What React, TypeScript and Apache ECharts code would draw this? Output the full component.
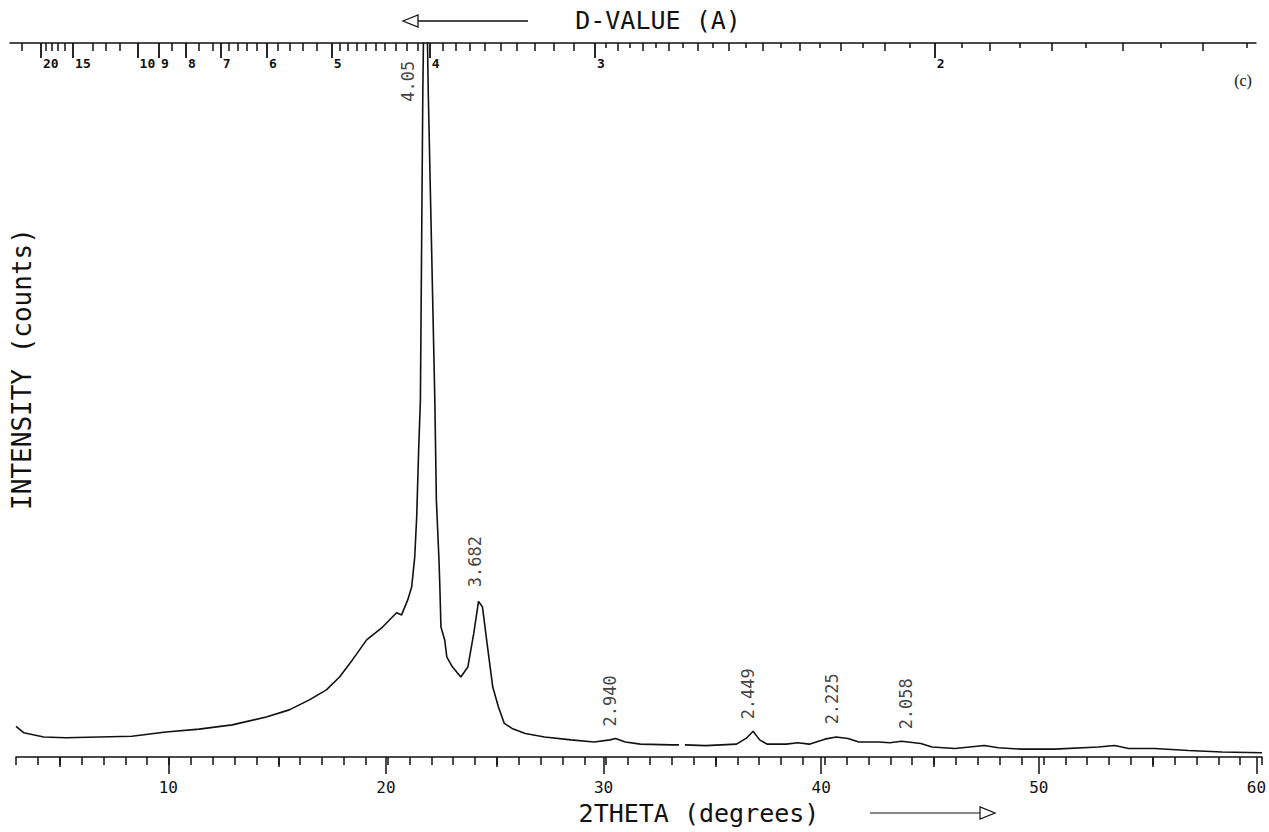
import React, { useEffect, useRef } from "react";
import * as echarts from "echarts";

// ---- diffraction pattern (2theta in degrees, intensity in relative counts; 1000 = top of frame)
const twoTheta = [
  3.0, 3.35, 4.27, 5.28, 6.79, 8.3, 9.86, 11.38, 12.89, 14.45, 15.5, 16.42, 17.2, 17.8, 18.39, 19.04, 19.77,
  20.41, 20.64, 20.92, 21.1, 21.24, 21.33, 21.42, 21.5, 21.61, 21.72, 21.86, 22.16, 22.23, 22.35, 22.39, 22.44,
  22.61, 22.71, 22.97, 23.35, 23.67, 23.94, 24.16, 24.34, 24.55, 24.81, 25.07, 25.34, 25.69, 26.3, 27.18, 28.39,
  29.45, 30.17, 30.43, 30.87, 31.56, 32.98, 33.33, 33.45, 33.6, 34.54, 35.96, 36.4, 36.72, 37.02, 37.36, 38.24,
  38.76, 39.29, 40.0, 40.52, 41.06, 41.56, 42.45, 42.98, 43.51, 44.39, 44.91, 45.96, 47.29, 47.94, 48.99, 50.5,
  52.52, 53.26, 53.9, 55.09, 56.65, 58.17, 60.0,
];
const intensity: (number | null)[] = [
  43, 34, 28, 27, 28, 29, 35, 39, 45, 56, 66, 80, 94, 112, 136, 164, 182,
  202, 199, 220, 238, 280, 336, 430, 500, 930, 1200, 930, 500, 360, 276, 238, 182,
  164, 140, 126, 112, 126, 173, 218, 210, 159, 98, 70, 47, 40, 33, 28, 24,
  21, 24, 26, 21, 18, 17, 17, null, 17, 16, 18, 26, 36, 24, 18, 18,
  20, 18, 25, 28, 26, 21, 21, 20, 22, 19, 14, 12, 16, 13, 11, 11,
  14, 16, 12, 12, 9, 7, 6,
];

// ---- peak annotations (d-spacing text, anchor at the foot of the label)
const peakLabels = ["4.05", "3.682", "2.940", "2.449", "2.225", "2.058"];
const peakLabelTwoTheta = [20.92, 23.99, 30.16, 36.47, 40.31, 43.72];
const peakLabelIntensity = [917, 237, 42, 52, 45, 38];

// ---- bottom axis (2theta)
const bottomMajorTicks = [10, 20, 30, 40, 50, 60];
const bottomMidTicks = [5, 15, 25, 35, 45, 55];

// ---- top axis (d-value, Angstrom)
const dLabelled = [20, 15, 10, 9, 8, 7, 6, 5, 4, 3, 2];
const dTenths = [
  25, 19, 18, 17, 16, 13, 12, 11, 8.5, 7.6, 7.2, 6.8, 6.6, 6.4, 6.2, 5.8, 5.6, 5.4, 5.2,
  4.9, 4.8, 4.7, 4.6, 4.5, 4.4, 4.3, 4.2, 4.1, 3.9, 3.8, 3.7, 3.6, 3.5, 3.4, 3.3, 3.2, 3.1,
  2.9, 2.8, 2.7, 2.6, 2.5, 2.4, 2.3, 2.2, 2.1, 1.9, 1.8, 1.7, 1.6,
];
const dTwentieths = [2.95, 2.85, 2.75, 2.65, 2.55, 2.45, 2.35, 2.25, 2.15, 2.05, 1.95, 1.85, 1.75, 1.65, 1.55];

const LAMBDA = 1.5406; // Cu K-alpha
const dToTwoTheta = (d: number) => (2 * Math.asin(LAMBDA / (2 * d)) * 180) / Math.PI;

const MONO = "'DejaVu Sans Mono', monospace";
const INK = "#111";

export default function App() {
  const ref = useRef<HTMLDivElement>(null);

  useEffect(() => {
    if (!ref.current) return;
    const chart = echarts.init(ref.current, undefined, { renderer: "svg" });

    const labelledTT = dLabelled.map(dToTwoTheta);
    const labelFor = (v: number) => {
      let best = 0;
      let bestDiff = Infinity;
      labelledTT.forEach((t, i) => {
        const diff = Math.abs(t - v);
        if (diff < bestDiff) {
          bestDiff = diff;
          best = i;
        }
      });
      return String(dLabelled[best]);
    };

    const bottomGrid = { left: 16, right: 7, top: 43, bottom: 75 };
    const topGrid = { left: 10, right: 13, top: 43, bottom: 75 };
    const tickStyle = { color: INK, width: 1.5 };

    const xBase = (grid: number, position: "top" | "bottom") => ({
      type: "value" as const,
      gridIndex: grid,
      position,
      min: 3,
      max: 60,
      splitLine: { show: false },
      axisLine: { show: false, onZero: false, lineStyle: tickStyle },
    });

    const option: any = {
      animation: false,
      backgroundColor: "#fff",
      grid: [bottomGrid, bottomGrid, bottomGrid, topGrid, topGrid, topGrid],
      xAxis: [
        {
          ...xBase(0, "bottom"),
          interval: 1,
          axisLine: { show: true, onZero: false, lineStyle: tickStyle },
          axisTick: { show: true, length: 8, lineStyle: tickStyle },
          axisLabel: { show: false },
        },
        {
          ...xBase(1, "bottom"),
          axisTick: { show: true, length: 10, customValues: bottomMidTicks, lineStyle: tickStyle },
          axisLabel: { show: false },
        },
        {
          ...xBase(2, "bottom"),
          axisTick: { show: true, length: 17, customValues: bottomMajorTicks, lineStyle: tickStyle },
          axisLabel: {
            show: true,
            customValues: bottomMajorTicks,
            margin: 22,
            fontSize: 16,
            fontFamily: MONO,
            color: INK,
          },
        },
        {
          ...xBase(3, "top"),
          axisLine: { show: true, onZero: false, lineStyle: tickStyle },
          axisTick: {
            show: true,
            inside: true,
            length: 5,
            customValues: dTwentieths.map(dToTwoTheta),
            lineStyle: tickStyle,
          },
          axisLabel: { show: false },
        },
        {
          ...xBase(4, "top"),
          axisTick: {
            show: true,
            inside: true,
            length: 8,
            customValues: dTenths.map(dToTwoTheta),
            lineStyle: tickStyle,
          },
          axisLabel: { show: false },
        },
        {
          ...xBase(5, "top"),
          axisTick: {
            show: true,
            inside: true,
            length: 15,
            customValues: labelledTT,
            lineStyle: { color: INK, width: 1.8 },
          },
          axisLabel: {
            show: true,
            inside: true,
            customValues: labelledTT,
            margin: 14,
            align: "left",
            verticalAlign: "top",
            padding: [0, 0, 0, 2],
            fontSize: 13,
            fontWeight: "bold",
            fontFamily: MONO,
            color: INK,
            formatter: (v: number) => labelFor(v),
          },
        },
      ],
      yAxis: [0, 1, 2, 3, 4, 5].map((g) => ({
        type: "value",
        gridIndex: g,
        min: 0,
        max: 1000,
        show: false,
      })),
      series: [
        {
          type: "line",
          xAxisIndex: 0,
          yAxisIndex: 0,
          data: twoTheta.map((t, i) => [t, intensity[i] === null ? "-" : intensity[i]]),
          showSymbol: false,
          symbol: "none",
          connectNulls: false,
          clip: true,
          lineStyle: { color: INK, width: 1.6 },
          silent: true,
        },
        {
          type: "scatter",
          xAxisIndex: 0,
          yAxisIndex: 0,
          symbolSize: 1,
          itemStyle: { color: "rgba(0,0,0,0)" },
          silent: true,
          data: peakLabelTwoTheta.map((t, i) => [t, peakLabelIntensity[i], peakLabels[i]]),
          label: {
            show: true,
            position: "top",
            distance: 0,
            rotate: 90,
            align: "left",
            verticalAlign: "middle",
            fontSize: 17,
            fontFamily: MONO,
            color: INK,
            formatter: (p: any) => p.data[2],
          },
        },
      ],
      graphic: [
        {
          type: "text",
          x: 658,
          y: 20,
          style: { text: "D-VALUE (A)", align: "center", verticalAlign: "middle", fontSize: 25, fontFamily: MONO, fill: INK },
        },
        { type: "line", shape: { x1: 418, y1: 21, x2: 528, y2: 21 }, style: { stroke: INK, lineWidth: 1.3 } },
        {
          type: "polygon",
          shape: { points: [[403, 21], [418, 15], [418, 27]] },
          style: { stroke: INK, fill: "none", lineWidth: 1.3 },
        },
        {
          type: "text",
          x: 699,
          y: 813,
          style: { text: "2THETA (degrees)", align: "center", verticalAlign: "middle", fontSize: 25, fontFamily: MONO, fill: INK },
        },
        { type: "line", shape: { x1: 870, y1: 813, x2: 980, y2: 813 }, style: { stroke: INK, lineWidth: 1.2 } },
        {
          type: "polygon",
          shape: { points: [[980, 807], [980, 819], [995, 813]] },
          style: { stroke: INK, fill: "none", lineWidth: 1.2 },
        },
        {
          type: "text",
          x: 22,
          y: 369,
          rotation: Math.PI / 2,
          style: { text: "INTENSITY (counts)", align: "center", verticalAlign: "middle", fontSize: 26, fontFamily: MONO, fill: INK },
        },
        {
          type: "text",
          x: 1243,
          y: 80,
          style: { text: "(c)", align: "center", verticalAlign: "middle", fontSize: 16, fontFamily: "'Liberation Serif', serif", fill: INK },
        },
      ],
    };

    chart.setOption(option);
    return () => chart.dispose();
  }, []);

  return (
    <div
      ref={ref}
      style={{ position: "fixed", left: 0, top: 0, width: 1269, height: 832, background: "#fff" }}
    />
  );
}
